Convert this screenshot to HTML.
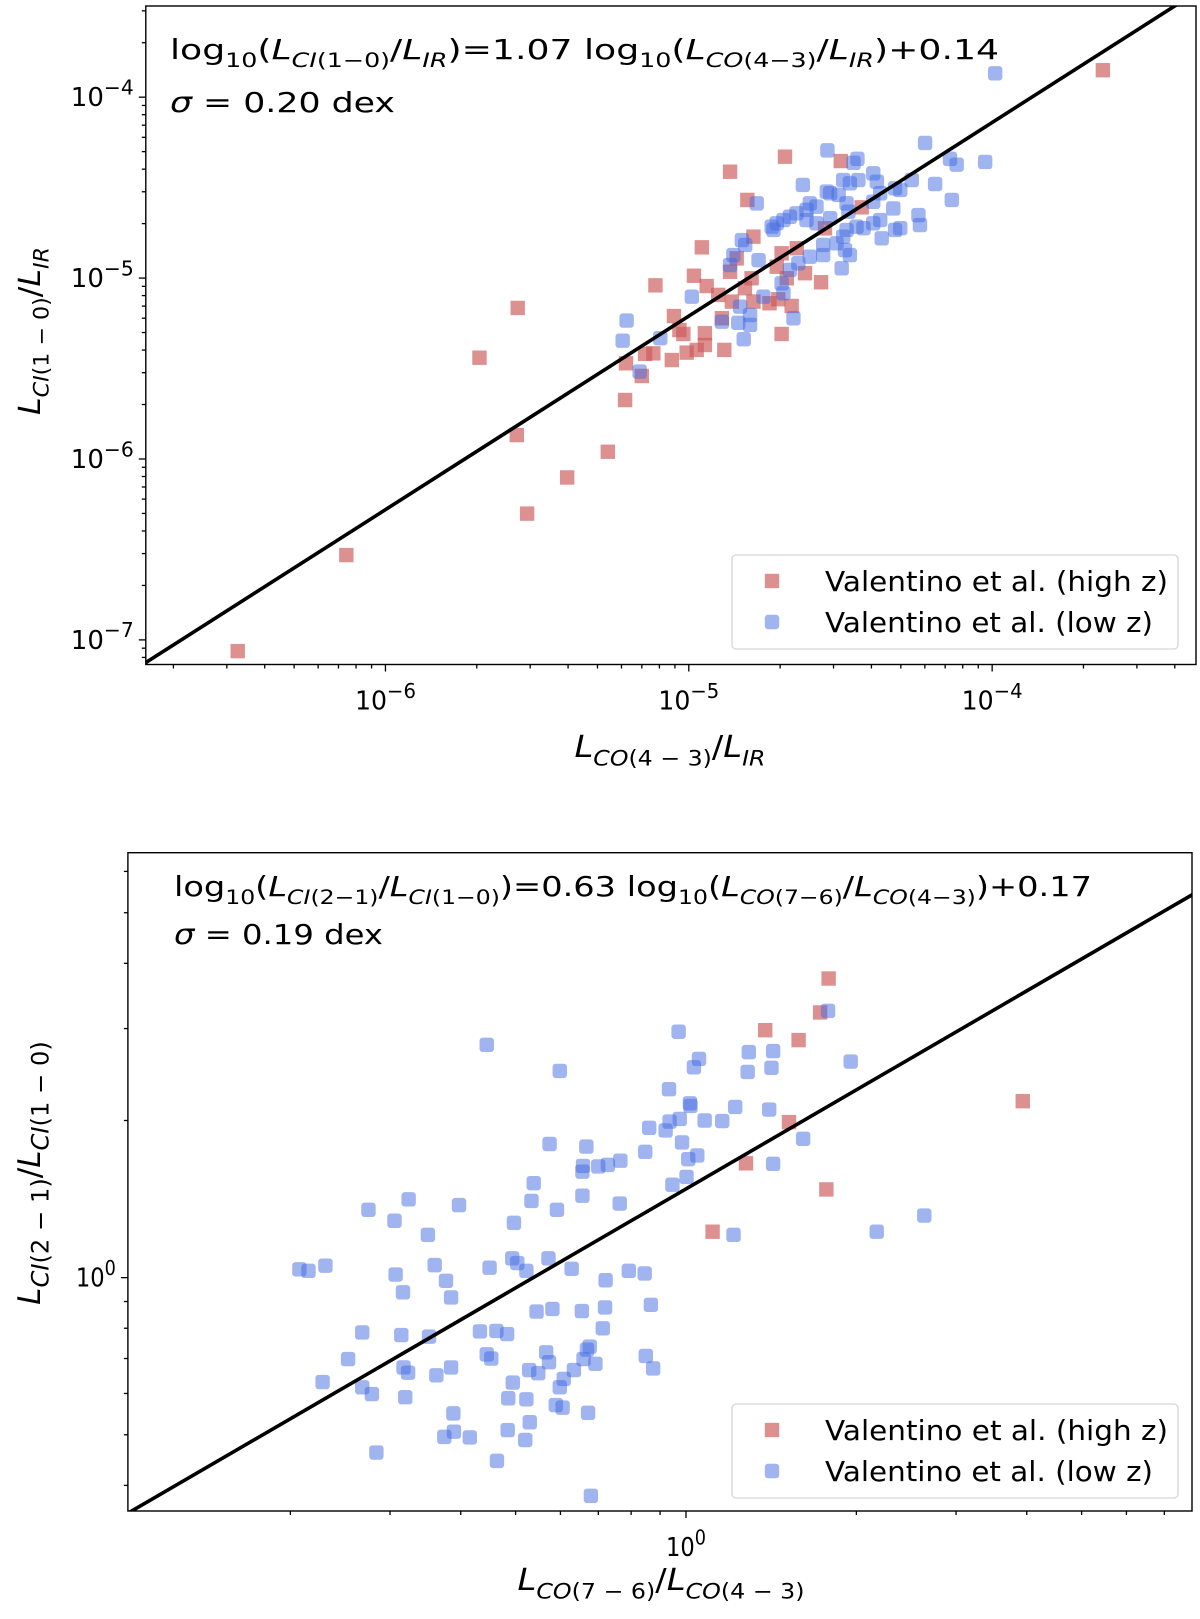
<!DOCTYPE html>
<html><head><meta charset="utf-8"><title>CI vs CO ratios</title>
<style>
html,body{margin:0;padding:0;background:#fff;width:1200px;height:1619px;overflow:hidden;}
svg{display:block;font-family:"DejaVu Sans","Liberation Sans",sans-serif;}
</style></head>
<body>
<svg id="fig" xmlns="http://www.w3.org/2000/svg" width="1200" height="1619" viewBox="0 0 1200 1619">
<rect x="0" y="0" width="1200" height="1619" fill="#fff"/>
<defs>
<clipPath id="clipTop"><rect x="145.8" y="6" width="1050.2" height="658.5"/></clipPath>
<clipPath id="clipBot"><rect x="127.9" y="852.7" width="1064.1" height="658.3"/></clipPath>
</defs>
<g id="topPanel"></g>
<g id="botPanel"></g>
</svg>
<script>
// ---------- Data (log10 values) ----------
const topRedX=[-4.683,-4.864,-4.499,-4.807,-4.430,-4.551,-4.957,-4.787,-5.110,-4.983,-4.941,-4.842,-4.864,-4.793,-4.694,-4.644,-4.710,-4.677,-4.617,-4.564,-4.903,-4.815,-4.787,-4.705,-4.661,-4.734,-4.858,-4.891,-5.049,-5.031,-5.018,-4.947,-4.947,-5.007,-4.974,-4.883,-5.056,-5.117,-5.144,-5.207,-5.155,-4.694,-5.210,-3.635,-6.487,-6.129,-5.533,-5.401,-5.267,-5.567,-5.690,-5.564];
const topRedY=[-4.329,-4.412,-4.353,-4.568,-4.609,-4.725,-4.830,-4.771,-5.040,-4.987,-5.044,-4.891,-4.965,-5.001,-4.863,-4.835,-4.937,-5.001,-4.973,-5.023,-5.093,-5.056,-5.130,-5.117,-5.154,-5.139,-5.130,-5.222,-5.210,-5.287,-5.309,-5.305,-5.370,-5.412,-5.397,-5.397,-5.453,-5.416,-5.419,-5.471,-5.541,-5.309,-5.674,-3.851,-7.062,-6.531,-6.302,-6.102,-5.960,-5.868,-5.440,-5.165];
const topBlueX=[-4.221,-4.543,-4.444,-4.457,-4.139,-4.117,-4.023,-4.624,-4.491,-4.469,-4.441,-4.392,-4.380,-4.534,-4.506,-4.545,-4.265,-4.188,-4.320,-4.303,-4.369,-4.133,-4.776,-4.601,-4.579,-4.612,-4.645,-4.667,-4.688,-4.710,-4.727,-4.721,-4.480,-4.474,-4.392,-4.326,-4.243,-4.238,-4.369,-4.392,-4.447,-4.480,-4.320,-4.303,-4.364,-4.424,-4.579,-4.534,-4.612,-4.814,-4.825,-4.853,-4.770,-4.601,-4.557,-4.557,-4.513,-4.491,-4.485,-4.469,-4.496,-4.639,-4.667,-4.990,-4.754,-4.831,-4.694,-4.688,-4.798,-4.837,-4.798,-4.655,-4.819,-5.205,-5.218,-5.094,-5.162,-4.864,-4.891,-3.990];
const topBlueY=[-4.253,-4.294,-4.341,-4.363,-4.341,-4.373,-4.358,-4.485,-4.458,-4.476,-4.458,-4.421,-4.467,-4.531,-4.540,-4.522,-4.458,-4.480,-4.504,-4.513,-4.531,-4.568,-4.587,-4.587,-4.605,-4.623,-4.642,-4.661,-4.679,-4.697,-4.716,-4.734,-4.587,-4.633,-4.578,-4.615,-4.652,-4.707,-4.679,-4.697,-4.716,-4.734,-4.734,-4.724,-4.780,-4.724,-4.697,-4.669,-4.679,-4.817,-4.790,-4.873,-4.901,-4.882,-4.873,-4.817,-4.808,-4.771,-4.845,-4.873,-4.946,-4.918,-4.955,-5.103,-5.103,-5.158,-5.029,-5.084,-5.204,-5.247,-5.259,-5.222,-5.338,-5.235,-5.346,-5.332,-5.517,-4.928,-5.241,-3.868];
const topFit=[1.07,0.14];
const topXTicks=[-6,-5,-4];
const topYTicks=[-4,-5,-6,-7];

const botRedX=[0.252,0.237,0.140,0.199,0.595,0.182,0.106,0.248,0.047];
const botRedY=[0.573,0.508,0.474,0.455,0.338,0.298,0.219,0.169,0.088];
const botBlueX=[-0.352,-0.223,-0.241,-0.176,-0.182,-0.183,-0.155,-0.138,-0.116,-0.269,-0.273,-0.183,-0.228,-0.117,-0.401,-0.490,-0.561,-0.515,-0.456,-0.304,-0.307,-0.298,-0.282,-0.243,-0.202,-0.347,-0.444,-0.424,-0.415,-0.513,-0.500,-0.683,-0.667,-0.637,-0.142,-0.101,-0.264,-0.236,-0.184,-0.143,-0.147,-0.364,-0.335,-0.316,-0.454,-0.503,-0.572,-0.597,-0.642,-0.572,-0.555,-0.496,-0.499,-0.491,-0.441,-0.415,-0.352,-0.344,-0.247,-0.242,-0.277,-0.261,-0.170,-0.175,-0.181,-0.160,-0.198,-0.216,-0.223,-0.306,-0.314,-0.282,-0.230,-0.218,-0.173,-0.411,-0.410,-0.427,-0.382,-0.315,-0.276,-0.284,-0.547,-0.334,-0.168,-0.071,-0.058,
-0.013,0.023,0.014,0.111,0.154,0.109,0.151,0.291,0.251,-0.030,0.007,0.008,0.087,0.147,-0.065,-0.036,-0.029,-0.011,0.033,0.064,-0.072,-0.007,0.004,0.020,0.001,-0.024,0.154,0.207,0.084,0.337,0.421,-0.073,-0.062];
const botBlueY=[0.446,0.396,0.256,0.251,0.214,0.203,0.213,0.216,0.224,0.181,0.147,0.157,0.130,0.142,0.139,0.150,0.130,0.109,0.082,0.105,0.037,0.028,0.013,0.037,0.017,0.019,0.024,-0.006,-0.038,0.006,-0.028,0.016,0.013,0.023,-0.005,0.013,-0.065,-0.060,-0.064,-0.057,-0.097,-0.103,-0.102,-0.108,-0.113,-0.110,-0.105,-0.156,-0.200,-0.210,-0.223,-0.229,-0.172,-0.182,-0.187,-0.172,-0.147,-0.155,-0.143,-0.162,-0.177,-0.183,-0.132,-0.138,-0.156,-0.165,-0.177,-0.194,-0.210,-0.201,-0.231,-0.233,-0.244,-0.249,-0.259,-0.260,-0.295,-0.305,-0.306,-0.292,-0.277,-0.311,-0.335,-0.351,-0.418,-0.150,-0.174,
0.471,0.419,0.403,0.432,0.434,0.394,0.402,0.414,0.511,0.361,0.334,0.329,0.327,0.322,0.287,0.282,0.299,0.304,0.301,0.300,0.241,0.259,0.227,0.234,0.193,0.178,0.218,0.266,0.082,0.088,0.119,0.008,-0.052];
const botFit=[0.63,0.17];
const botXTicks=[0];
const botYTicks=[0];

// ---------- helpers ----------
const NS='http://www.w3.org/2000/svg';
function mk(tag,attrs,parent){const e=document.createElementNS(NS,tag);for(const k in attrs)e.setAttribute(k,attrs[k]);if(parent)parent.appendChild(e);return e;}
function lin(d0,d1,r0,r1){return v=>r0+(v-d0)*(r1-r0)/(d1-d0);}
function mathText(parent,x,y,size,parts,extra,supScale,subScale){
  const t=mk('text',Object.assign({x:x,y:y,'font-size':size,fill:'#000'},extra||{}),parent);
  let cur=0;
  parts.forEach(p=>{
    const s=p[0],k=p[1];
    let target=0,fs=size;
    if(k[0]==='s'){target=0.28*size;fs=(subScale||0.7)*size;}
    if(k[0]==='p'){target=-0.45*size;fs=(supScale||0.7)*size;}
    const ts=mk('tspan',{dy:(target-cur).toFixed(2),'font-size':fs.toFixed(1)},t);
    if(k.indexOf('i')>=0)ts.setAttribute('font-style','italic');
    ts.textContent=s;cur=target;
  });
  return t;
}
function sqMarker(g,cx,cy,color,rounded,name,op){
  const r=mk('rect',{x:cx-7.2,y:cy-7.2,width:14.4,height:14.4,fill:color,'fill-opacity':op},g);
  if(rounded){r.setAttribute('rx',3.2);r.setAttribute('ry',3.2);}
  
  
  return r;
}

function panel(g,cfg){
  const sx=lin(cfg.xd[0],cfg.xd[1],cfg.box[0],cfg.box[2]);
  const sy=lin(cfg.yd[0],cfg.yd[1],cfg.box[3],cfg.box[1]);
  const [L,T,R,B]=cfg.box;
  const pg=mk('g',{'clip-path':'url(#'+cfg.clip+')'},g);
  
  
  cfg.redX.forEach((v,i)=>{sqMarker(pg,sx(v),sy(cfg.redY[i]),'#cd5c5c',false,'high-z-point',0.68);});
  cfg.blueX.forEach((v,i)=>{sqMarker(pg,sx(v),sy(cfg.blueY[i]),'#4169e1',true,'low-z-point',0.5);});
  const x0=cfg.xd[0]-1,x1=cfg.xd[1]+1;
  const ln=mk('line',{x1:sx(x0),y1:sy(cfg.fit[0]*x0+cfg.fit[1]),x2:sx(x1),y2:sy(cfg.fit[0]*x1+cfg.fit[1]),stroke:'#000','stroke-width':3.6,'clip-path':'url(#'+cfg.clip+')'},g);
  
  
  const fr=mk('rect',{x:L,y:T,width:R-L,height:B-T,fill:'none',stroke:'#000','stroke-width':1.4},g);
  
  
  const tg=mk('g',{stroke:'#000','stroke-width':1.3},g);
  for(let d=Math.floor(cfg.xd[0]);d<=Math.ceil(cfg.xd[1]);d++){
    for(let m=1;m<10;m++){
      const v=d+Math.log10(m); if(v<cfg.xd[0]||v>cfg.xd[1])continue;
      const len=m===1?7:4; mk('line',{x1:sx(v),y1:B,x2:sx(v),y2:B+len},tg);
    }
  }
  for(let d=Math.floor(cfg.yd[0]);d<=Math.ceil(cfg.yd[1]);d++){
    for(let m=1;m<10;m++){
      const v=d+Math.log10(m); if(v<cfg.yd[0]||v>cfg.yd[1])continue;
      const len=m===1?7:4; mk('line',{x1:L,y1:sy(v),x2:L-len,y2:sy(v)},tg);
    }
  }
  cfg.xTicks.forEach(v=>{
    const lab=mathText(g,sx(v),B+45,26,[['10','n'],[cfg.expStr(v),'pn']],{'text-anchor':'middle',textLength:(v<0?61:40),lengthAdjust:'spacingAndGlyphs'},0.78);
    
    
  });
  cfg.yTicks.forEach(v=>{
    const lab=mathText(g,L-12,sy(v)+9,26,[['10','n'],[cfg.expStr(v),'pn']],{'text-anchor':'end',textLength:(v<0?63:40),lengthAdjust:'spacingAndGlyphs'},0.78);
    
    
  });
}
function ex(v){return v<0?'\u2212'+(-v):String(v);}

const topG=document.getElementById('topPanel');
panel(topG,{box:[145.8,6,1196,664.5],xd:[-6.79,-3.328],yd:[-7.136,-3.496],clip:'clipTop',
  redX:topRedX,redY:topRedY,blueX:topBlueX,blueY:topBlueY,fit:topFit,xTicks:topXTicks,yTicks:topYTicks,expStr:ex});
const botG=document.getElementById('botPanel');
panel(botG,{box:[127.9,852.7,1192,1511],xd:[-0.986,0.894],yd:[-0.447,0.814],clip:'clipBot',
  redX:botRedX,redY:botRedY,blueX:botBlueX,blueY:botBlueY,fit:botFit,xTicks:botXTicks,yTicks:botYTicks,expStr:ex});

// ---------- text ----------
let t;
t=mathText(topG,170,59,28,[['log','n'],['10','sn'],['(','n'],['L','i'],['CI','si'],['(1\u22120)','sn'],['/','n'],['L','i'],['IR','si'],[')=1.07 log','n'],['10','sn'],['(','n'],['L','i'],['CO','si'],['(4\u22123)','sn'],['/','n'],['L','i'],['IR','si'],[')+0.14','n']],{textLength:829,lengthAdjust:'spacingAndGlyphs'});


t=mathText(topG,170,112,28,[['\u03c3','i'],[' = 0.20 dex','n']],{textLength:225,lengthAdjust:'spacingAndGlyphs'});


t=mathText(topG,670,757,30,[['L','i'],['CO','si'],['(4 \u2212 3)','sn'],['/','n'],['L','i'],['IR','si']],{'text-anchor':'middle',textLength:191,lengthAdjust:'spacingAndGlyphs'});


t=mathText(topG,40,331,30,[['L','i'],['CI','si'],['(1 \u2212 0)','sn'],['/','n'],['L','i'],['IR','si']],{'text-anchor':'middle',transform:'rotate(-90 40 331)',textLength:168,lengthAdjust:'spacingAndGlyphs'});



t=mathText(botG,174,896,28,[['log','n'],['10','sn'],['(','n'],['L','i'],['CI','si'],['(2\u22121)','sn'],['/','n'],['L','i'],['CI','si'],['(1\u22120)','sn'],[')=0.63 log','n'],['10','sn'],['(','n'],['L','i'],['CO','si'],['(7\u22126)','sn'],['/','n'],['L','i'],['CO','si'],['(4\u22123)','sn'],[')+0.17','n']],{textLength:918,lengthAdjust:'spacingAndGlyphs'});


t=mathText(botG,174,944,28,[['\u03c3','i'],[' = 0.19 dex','n']],{textLength:209,lengthAdjust:'spacingAndGlyphs'});


t=mathText(botG,661,1590,30,[['L','i'],['CO','si'],['(7 \u2212 6)','sn'],['/','n'],['L','i'],['CO','si'],['(4 \u2212 3)','sn']],{'text-anchor':'middle',textLength:287,lengthAdjust:'spacingAndGlyphs'});


t=mathText(botG,40,1173,31,[['L','i'],['CI','si'],['(2 \u2212 1)','sn'],['/','n'],['L','i'],['CI','si'],['(1 \u2212 0)','sn']],{'text-anchor':'middle',transform:'rotate(-90 40 1173)'},0.7,0.78);



// ---------- legends ----------
function legend(g,top){
  const lg=mk('g',{},g);
  
  
  mk('rect',{x:732,y:top,width:446,height:94,rx:4,fill:'#fff','fill-opacity':0.85,stroke:'#d6d6d6','stroke-width':1.3},lg);
  const entries=[['Valentino et al. (high z)','#cd5c5c',false,0.68,343],['Valentino et al. (low z)','#4169e1',true,0.5,328]];
  entries.forEach((e,i)=>{
    const cy=top+26+i*41;
    const eg=mk('g',{},lg);
    
    
    sqMarker(eg,772,cy,e[1],e[2],'legend-marker',e[3]);
    const tx=mk('text',{x:825,y:cy+10,'font-size':28,textLength:e[4],lengthAdjust:'spacingAndGlyphs'},eg);
    tx.textContent=e[0];
  });
}
legend(topG,555);
legend(botG,1404);
</script>
</body></html>
